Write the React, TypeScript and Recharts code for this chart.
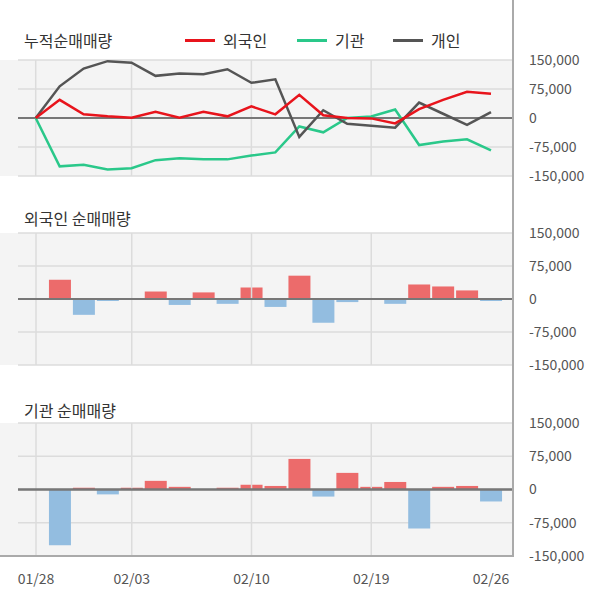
import { ComposedChart, Line, Bar, Cell, XAxis, YAxis, CartesianGrid, ReferenceLine } from "recharts"

const dates = ["01/28", "01/29", "01/30", "01/31", "02/03", "02/04", "02/05", "02/06", "02/07", "02/10",
  "02/11", "02/12", "02/13", "02/14", "02/19", "02/20", "02/21", "02/24", "02/25", "02/26"]
const xTicks = ["01/28", "02/03", "02/10", "02/19", "02/26"]
const gridX = ["01/28", "02/03", "02/10", "02/19"]
const yTicks = [-150000, -75000, 0, 75000, 150000]

// 누적
const cumForeign = [0, 47000, 9500, 4300, 900, 16000, 900, 16000, 4300, 30000, 9500, 60000, 7000, 0, -1000, -14000, 23000, 47000, 68000, 63000]
const cumInst = [0, -125000, -121000, -133000, -130000, -109000, -104000, -107000, -107000, -97000, -89000, -22000, -37000, 0, 4000, 22000, -70000, -61000, -55000, -84000]
const cumIndiv = [0, 82000, 128000, 147000, 143000, 109000, 115000, 113000, 126000, 91000, 100000, -49000, 20000, -15000, -20000, -25000, 40000, 11000, -18000, 15000]

// 일별
const foreign = [0, 44000, -36000, -4500, 0, 17000, -13500, 15000, -11000, 26000, -18000, 53000, -54000, -7000, 0, -11000, 33000, 28500, 19500, -4500]
const inst = [0, -126000, 4000, -11000, 4000, 19500, 6000, 0, 4000, 10500, 8000, 69000, -16000, 37500, 6000, 17000, -88000, 6000, 8000, -27000]

const font = "'Noto Sans CJK KR', 'Noto Sans', sans-serif"
const fmt = (v: number) => v.toLocaleString("en-US")

const cumData = dates.map((d, i) => ({ d, f: cumForeign[i], n: cumInst[i], p: cumIndiv[i] }))
const fData = dates.map((d, i) => ({ d, v: foreign[i] }))
const iData = dates.map((d, i) => ({ d, v: inst[i] }))

const PAD = 12

function common(showX: boolean, pad: { left: number; right: number }) {
  return [
    <CartesianGrid key="g" vertical={false} stroke="#dcdcdc" strokeWidth={1.5} />,
    <XAxis key="x" dataKey="d" hide={!showX} ticks={xTicks} interval={0} padding={pad} height={36}
      axisLine={false} tickLine={false} tickMargin={12} tick={{ fill: "#555", fontSize: 14, fontFamily: font }} />,
    <YAxis key="y" orientation="right" width={87} domain={[-150000, 150000]} ticks={yTicks} tickFormatter={fmt}
      axisLine={false} tickLine={false} tickMargin={10} tick={{ fill: "#555", fontSize: 14, fontFamily: font, textAnchor: "start" }} />,
    ...gridX.map((g) => <ReferenceLine key={g} x={g} stroke="#dcdcdc" strokeWidth={1.5} />),
    <ReferenceLine key="z" y={0} stroke="#777" strokeWidth={2} />,
  ]
}

const bg = (top: number, h: number) => (
  <div style={{ position: "absolute", left: 0, top, width: 513, height: h, background: "#f4f4f4" }} />
)

const title = (text: string, top: number) => (
  <div style={{ position: "absolute", left: 24, top, fontSize: 16, color: "#333", fontFamily: font }}>{text}</div>
)

function LegendItem({ x, color, label }: { x: number; color: string; label: string }) {
  return (
    <div style={{ position: "absolute", left: x, top: 28, display: "flex", alignItems: "center", fontFamily: font, fontSize: 16, color: "#333" }}>
      <div style={{ width: 30, height: 3, background: color, marginRight: 8 }} />
      {label}
    </div>
  )
}

export default function App() {
  const margin = { top: PAD, right: 0, left: 18, bottom: PAD }
  const linePad = { left: 17.7, right: 22 }
  const barPad = { left: 6, right: 10 }
  return (
    <div style={{ position: "absolute", left: 0, top: 0, width: 600, height: 604, background: "#fff", overflow: "hidden" }}>
      {bg(60, 116)}
      {bg(233, 132)}
      {bg(423, 133)}
      {title("누적순매매량", 28)}
      <LegendItem x={185} color="#e8141c" label="외국인" />
      <LegendItem x={297} color="#2ac88a" label="기관" />
      <LegendItem x={393} color="#555" label="개인" />
      {title("외국인 순매매량", 206)}
      {title("기관 순매매량", 398)}
      <div style={{ position: "absolute", left: 0, top: 60 - PAD }}>
        <ComposedChart width={600} height={116 + 2 * PAD} data={cumData} margin={margin}>
          {common(false, linePad)}
          <Line dataKey="n" stroke="#2ac88a" strokeWidth={2.5} dot={false} isAnimationActive={false} />
          <Line dataKey="p" stroke="#555" strokeWidth={2.5} dot={false} isAnimationActive={false} />
          <Line dataKey="f" stroke="#e8141c" strokeWidth={2.5} dot={false} isAnimationActive={false} />
        </ComposedChart>
      </div>
      <div style={{ position: "absolute", left: 0, top: 233 - PAD }}>
        <ComposedChart width={600} height={132 + 2 * PAD} data={fData} margin={margin} barCategoryGap={1}>
          {common(false, barPad)}
          <Bar dataKey="v" isAnimationActive={false}>
            {foreign.map((v, i) => <Cell key={i} fill={v >= 0 ? "#ec6b6b" : "#93bde0"} />)}
          </Bar>
          <ReferenceLine y={0} stroke="#777" strokeWidth={2} />
        </ComposedChart>
      </div>
      <div style={{ position: "absolute", left: 0, top: 423 - PAD }}>
        <ComposedChart width={600} height={133 + PAD + 36} data={iData} margin={{ ...margin, bottom: 0 }} barCategoryGap={1}>
          {common(true, barPad)}
          <Bar dataKey="v" isAnimationActive={false}>
            {inst.map((v, i) => <Cell key={i} fill={v >= 0 ? "#ec6b6b" : "#93bde0"} />)}
          </Bar>
          <ReferenceLine y={0} stroke="#777" strokeWidth={2} />
        </ComposedChart>
      </div>
      <div style={{ position: "absolute", left: 512, top: 0, width: 2, height: 557, background: "#aaa" }} />
      <div style={{ position: "absolute", left: 0, top: 555, width: 514, height: 2, background: "#aaa" }} />
    </div>
  )
}
